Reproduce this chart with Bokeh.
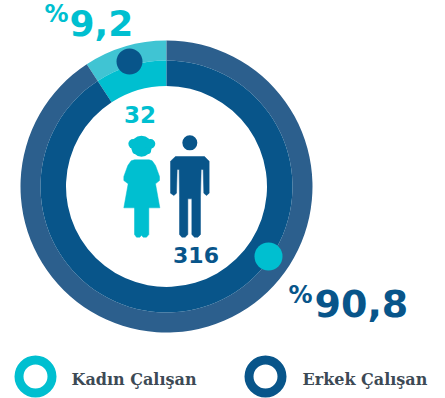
from bokeh.plotting import figure
from bokeh.embed import file_html
from bokeh.resources import INLINE
from bokeh.core.properties import value
from bokeh.models import Range1d
import numpy as np

# data
categories = ["Kadın Çalışan", "Erkek Çalışan"]
counts = [32, 316]
percent_labels = ["9,2", "90,8"]
count_labels = ["32", "316"]
C_TEAL, C_TEAL_L, C_BLUE, C_BLUE_L = "#00bfd0", "#40c4d3", "#08558a", "#2c5f8d"
C_TEXT = "#3d4a55"
W, H = 445, 398

def Y(v):
    return H - np.asarray(v, dtype=float)

p = figure(width=W, height=H, output_backend="svg", toolbar_location=None,
           x_range=Range1d(0, W), y_range=Range1d(0, H), min_border=0,
           outline_line_color=None, background_fill_color="white", border_fill_color="white")
p.axis.visible = False
p.grid.visible = False
p.styles = {"position": "absolute", "left": "0", "top": "0"}

cx, cy = 166, 186
R_OUT, R_MID, R_IN = 146, 126, 100.5
share = counts[0] / sum(counts)
a0 = np.pi / 2
a1 = a0 + 2 * np.pi * share
a2 = a0 + 2 * np.pi
for s, e, c_out, c_in in [(a0, a1, C_TEAL_L, C_TEAL), (a1, a2, C_BLUE_L, C_BLUE)]:
    p.annular_wedge([cx], Y([cy]), R_MID, R_OUT, s, e, fill_color=c_out, line_color=None)
    p.annular_wedge([cx], Y([cy]), R_IN, R_MID, s, e, fill_color=c_in, line_color=None)

# dots on the ring
p.circle([129], Y([61]), radius=13, fill_color=C_BLUE, line_color=None)
p.circle([268], Y([256]), radius=14, fill_color=C_TEAL, line_color=None)

# icons (zoom-crop coordinates, mapped to picture)
def zx(v): return 110 + np.asarray(v, dtype=float) / 3
def zy(v): return Y(100 + np.asarray(v, dtype=float) / 3)

man_x = [195,282,296,296,288,280,278,272,270,270,262,252,244,244,232,232,224,214,207,207,206,200,198,190,180,180]
man_y = [168,168,182,278,285,278,207,207,290,402,410,410,402,295,295,402,410,410,402,290,207,207,278,285,278,182]
p.patch(zx(man_x), zy(man_y), fill_color=C_BLUE, line_color=C_BLUE, line_width=0.5, line_join="round")
p.circle(zx([238]), zy([127]), radius=7.5, fill_color=C_BLUE, line_color=None)

wom_x = [72,116,125,135,147,147,135,148,40,53,40,40,52,62]
wom_y = [178,178,181,195,228,240,250,322,322,250,240,228,195,181]
p.patch(zx(wom_x), zy(wom_y), fill_color=C_TEAL, line_color=C_TEAL, line_width=0.5, line_join="round")
leg_x = [72,115,115,108,98,93,88,78,72]
leg_y = [318,318,402,410,410,404,410,410,402]
p.patch(zx(leg_x), zy(leg_y), fill_color=C_TEAL, line_color=C_TEAL, line_width=0.5, line_join="round")
p.circle(zx([93, 68, 120, 76, 111]), zy([137, 130, 130, 150, 150]),
         radius=[10.5, 4.8, 4.8, 3.6, 3.6], fill_color=C_TEAL, line_color=None)

# labels
NUM = value("DejaVu Sans")
def txt(x, y, t, size, color, font=NUM, style="bold", align="left"):
    p.text([x], Y([y]), text=[t], text_font=font, text_font_size=f"{size}px", text_font_style=style,
           text_color=color, text_align=align, text_baseline="middle")

txt(44, 13, "%", 24, C_TEAL)
txt(69, 22, percent_labels[0], 36, C_TEAL)
txt(139.5, 114, count_labels[0], 23, C_TEAL, align="center")
txt(288, 294, "%", 24, C_BLUE)
txt(314, 303, percent_labels[1], 38, C_BLUE)
txt(195.5, 254, count_labels[1], 22, C_BLUE, align="center")

# legend
for x, c, name, tx in [(35, C_TEAL, categories[0], 71), (265, C_BLUE, categories[1], 302)]:
    p.annulus([x], Y([376]), 12, 21, fill_color=c, line_color=None)
    txt(tx, 379, name, 16, C_TEXT, font=value("DejaVu Serif"))

open("out.html", "w").write(file_html(p, INLINE))
